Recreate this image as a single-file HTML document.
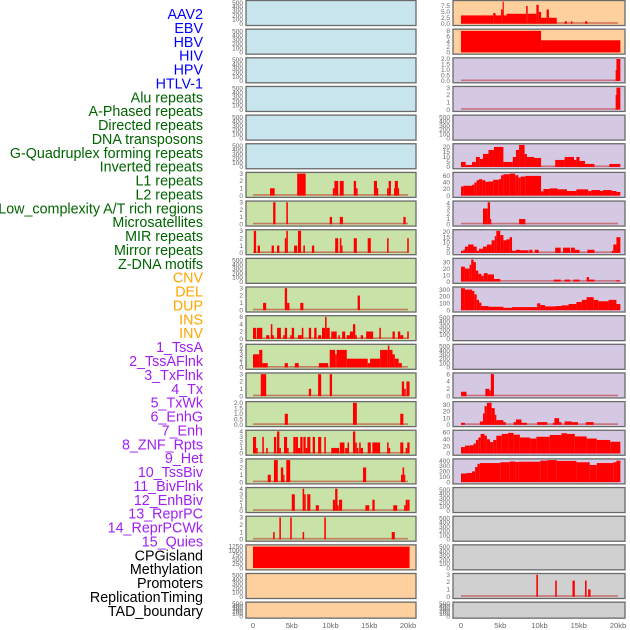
<!DOCTYPE html>
<html><head><meta charset="utf-8"><style>
html,body{margin:0;padding:0;background:#fff;}
svg{display:block;font-family:"Liberation Sans",sans-serif;}
</style></head><body>
<svg id="chart" width="630" height="630" viewBox="0 0 630 630" xmlns="http://www.w3.org/2000/svg">
<g id="labels" font-size="14.3" text-anchor="end"></g>
<g id="panels"></g>
</svg>
<script>
const labelNames = ["AAV2","EBV","HBV","HIV","HPV","HTLV-1","Alu repeats","A-Phased repeats","Directed repeats","DNA transposons","G-Quadruplex forming repeats","Inverted repeats","L1 repeats","L2 repeats","Low_complexity A/T rich regions","Microsatellites","MIR repeats","Mirror repeats","Z-DNA motifs","CNV","DEL","DUP","INS","INV","1_TssA","2_TssAFlnk","3_TxFlnk","4_Tx","5_TxWk","6_EnhG","7_Enh","8_ZNF_Rpts","9_Het","10_TssBiv","11_BivFlnk","12_EnhBiv","13_ReprPC","14_ReprPCWk","15_Quies","CPGisland","Methylation","Promoters","ReplicationTiming","TAD_boundary"];
const labelGroups = [6,13,5,15,5];
const groupColors = ["#0000ff","#006400","#ffa500","#a020f0","#000000"];

const xTickValues = [0,5,10,15,20];
const xTickLabels = ["0","5kb","10kb","15kb","20kb"];

const ticks3 = [0,1,2,3], ticks4=[0,1,2,3,4], ticks5=[0,1,2,3,4,5], ticks6=[0,2,4,6];
const ticks2 = [0,0.5,1,1.5,2], ticksEmpty=[0,100,200,300,400,500];

const segL6 = [[2.2,2.8,1],[5.7,6.8,3],[10.3,10.5,1],[10.5,11.0,2],[11.2,11.7,2],[13.0,13.3,2],[13.3,13.5,1],[15.6,16.0,2],[16.0,16.1,1],[17.3,17.5,1],[17.5,17.8,2],[18.2,18.3,1],[18.3,18.7,2],[18.7,18.8,1]];
const segL7 = [[2.6,2.9,3],[4.3,4.5,3],[9.9,10.2,1],[11.2,11.6,1],[19.4,19.7,1]];
const segL8 = [[0.1,0.4,3],[0.6,0.9,1],[2.4,2.7,1],[3.1,3.4,1],[4.1,4.3,2],[4.3,4.5,3],[5.3,5.7,1],[5.8,6.2,3],[6.5,6.7,1],[7.6,7.9,1],[10.6,11.0,2],[11.2,11.4,2],[11.4,11.5,1],[13.0,13.4,2],[14.8,15.2,2],[17.3,17.5,2],[19.9,20.1,2]];
const segL10 = [[1.3,1.7,1],[4.1,4.4,3],[4.4,4.7,1],[6.1,6.5,1],[13.5,13.8,2]];
const segL11 = [[0,0.4,3],[0.5,1.2,3],[1.7,2.1,1],[2.3,2.5,4],[2.5,2.7,1],[3.1,3.6,3],[3.9,4.1,1],[4.1,4.4,3],[4.8,5.0,1],[5.0,5.3,3],[5.8,6.3,1],[6.3,6.5,3],[7.2,7.5,3],[7.9,8.2,3],[8.4,8.8,1],[8.9,9.3,3],[9.3,9.5,6],[9.5,9.9,3],[10.1,10.8,2],[11.0,11.2,1],[11.5,11.9,2],[12.1,12.5,1],[12.5,12.9,2],[12.9,13.2,4],[13.2,13.4,1],[13.9,14.2,1],[14.6,15.5,2],[16.3,16.5,3],[18.0,18.3,2],[18.7,19.0,2],[19.0,19.4,1],[19.9,20.1,2]];
const segL12 = [[0,0.8,3],[0.8,1.2,4],[1.2,1.9,1],[4.1,4.5,1],[5.4,5.9,1],[8.5,9.7,1],[9.9,10.6,4],[10.6,10.8,3],[10.8,12.1,4],[12.1,14.8,2],[14.8,15.1,1],[15.1,16.4,2],[16.4,17.4,4],[17.4,17.6,5],[17.6,18.0,4],[18.0,18.3,3],[18.3,18.8,2],[18.8,19.2,1]];
const segL13 = [[1.0,1.7,3],[7.2,7.5,1],[8.4,8.8,3],[9.9,10.2,3],[19.2,19.5,2],[19.5,19.7,1],[19.8,20.2,2]];
const segL14 = [[4.1,4.5,1],[12.9,13.4,2],[19.0,19.4,1]];
const segL15 = [[0,0.4,3],[0.4,0.6,1],[1.2,1.4,3],[1.7,1.9,1],[2.7,3.0,3],[3.1,3.4,4],[3.4,3.6,1],[4.0,4.4,3],[4.4,4.6,1],[5.2,5.5,3],[5.5,5.8,3],[5.8,6.1,1],[6.1,6.4,3],[6.5,6.8,3],[6.8,7.0,1],[7.0,7.4,3],[7.7,8.0,3],[8.4,8.8,3],[9.2,9.4,3],[10.1,11.1,1],[11.2,11.8,2],[11.9,12.2,1],[12.2,12.4,2],[12.9,13.2,4],[13.2,13.4,2],[13.4,13.6,1],[13.7,13.9,2],[13.9,14.2,1],[14.8,15.2,2],[15.4,16.4,2],[17.3,17.5,2],[17.5,17.7,1],[19.0,19.4,2],[19.7,19.9,1],[19.9,20.2,2]];
const segL16 = [[1.9,2.3,1],[2.7,3.2,3],[3.6,3.9,2],[3.9,4.0,1],[4.3,4.8,3],[14.2,14.6,2],[19.1,19.3,1],[19.3,19.5,2],[19.5,19.6,1]];
const segL17 = [[5.0,5.4,3],[6.4,6.6,4],[6.6,6.8,3],[7.0,7.4,3],[8.1,8.5,1],[10.3,10.6,2],[10.6,10.9,4],[10.9,11.0,1],[11.1,11.5,2],[14.5,15.0,1],[15.4,15.7,2],[18.1,18.6,1],[19.5,19.7,1],[19.7,19.9,2],[19.9,20.2,2]];
const segL18 = [[2.6,2.8,1],[3.4,3.6,3],[4.8,5.0,3],[6.4,6.6,1],[9.2,9.4,3],[17.9,18.3,1]];
const segL19 = [[0,20.2,1220]];

const segR0 = [[0,4.1,3.5],[4.1,4.4,4.5],[4.4,5.1,3.5],[5.1,5.3,6],[5.3,5.4,9.3],[5.4,5.8,3.5],[5.8,8.3,4.2],[8.3,8.5,7.5],[8.5,9.6,4.2],[9.6,9.9,8],[9.9,10.2,5],[10.2,10.9,2.5],[10.9,11.2,6],[11.2,12.2,2.5],[13.2,13.5,1],[14.0,14.2,1],[15.8,16.1,1]];
const segR1 = [[0,10.2,8],[10.2,20.3,4.5]];
const segR2 = [[19.7,19.8,1],[19.8,20.3,2]];
const segR3 = [[19.7,19.8,2],[19.8,20.3,3]];
const segR5 = [[0,0.6,5],[0.6,1.4,2],[1.4,1.9,5],[1.9,2.4,10],[2.4,2.8,8],[2.8,3.5,13],[3.5,4.2,17],[4.2,5.4,20],[5.4,6.6,5],[6.6,7.0,10],[7.0,7.4,17],[7.4,8.1,22],[8.1,8.4,13],[8.4,9.3,10],[9.3,10.2,9],[12.0,13.2,7],[13.2,14.4,10],[14.4,14.7,7],[14.7,15.1,10],[15.1,15.8,6],[15.8,17.0,3],[18.9,20.3,3]];
const segR6 = [[0,0.3,28],[0.3,1.4,30],[1.4,1.7,33],[1.7,2.0,40],[2.0,2.3,47],[2.3,2.7,50],[2.7,3.1,47],[3.1,3.5,42],[3.5,4.1,43],[4.1,4.8,48],[4.8,5.1,50],[5.1,5.4,62],[5.4,6.2,65],[6.2,6.9,67],[6.9,7.3,62],[7.3,7.6,55],[7.6,8.2,58],[8.2,10.2,60],[10.2,10.5,13],[10.5,11.3,20],[11.3,12.3,22],[12.3,13.5,19],[13.5,14.7,14],[14.7,16.2,19],[16.2,16.6,14],[16.6,17.7,17],[17.7,18.1,14],[18.1,19.2,17],[19.2,19.8,14],[19.8,20.3,11]];
const segR7 = [[2.8,3.4,3],[3.4,3.7,4.2],[3.7,3.8,1],[7.4,8.2,1]];
const segR8 = [[0,0.3,2],[0.3,0.5,3],[0.5,0.9,6],[0.9,1.6,8],[1.6,2.0,6],[2.0,2.3,2],[2.3,2.8,4],[2.8,3.3,6],[3.3,3.9,8],[3.9,4.3,12],[4.3,4.5,16],[4.5,5.0,21],[5.0,5.4,17],[5.4,5.8,12],[5.8,6.2,13],[6.2,6.5,15],[6.5,7.0,2],[7.0,7.5,3],[7.5,8.6,2.5],[8.7,9.1,3],[9.4,9.9,3],[12.0,12.7,5],[13.0,13.9,5],[14.0,14.5,5],[14.5,15.1,3],[16.1,17.0,3],[19.2,19.4,2],[19.4,19.8,8],[19.8,20.3,15]];
const segR9 = [[0,0.5,23],[0.5,1.1,20],[1.1,1.3,26],[1.3,1.6,34],[1.6,1.9,30],[1.9,2.2,17],[2.2,2.6,12],[2.6,2.9,9],[2.9,3.4,13],[3.4,4.2,11],[4.2,5.0,4],[11.8,12.7,3],[13.2,13.9,3],[14.3,15.1,3],[16.0,16.3,7],[16.3,17.0,3],[19.8,20.3,2]];
const segR10 = [[0,0.5,320],[0.5,1.4,300],[1.4,1.7,280],[1.7,2.0,230],[2.0,2.3,150],[2.3,2.6,110],[2.6,3.5,60],[3.5,5.4,50],[5.4,6.5,35],[6.5,9.7,45],[9.7,10.1,100],[10.1,10.7,75],[10.7,12.0,55],[12.0,12.8,60],[12.8,13.7,70],[13.7,14.7,90],[14.7,15.4,120],[15.4,16.0,150],[16.0,16.9,190],[16.9,17.5,150],[17.5,18.8,130],[18.8,19.8,150],[19.8,20.3,90]];
const segR13 = [[0,0.7,1.2],[3.1,3.6,2],[3.6,3.8,1.5],[3.8,4.2,6]];
const segR14 = [[0,0.5,3],[2.4,2.8,5],[2.8,3.0,17],[3.0,3.3,28],[3.3,3.9,33],[3.9,4.3,25],[4.3,4.5,15],[4.5,5.4,7],[5.4,5.7,4],[6.7,7.0,4],[7.0,7.7,8],[7.7,8.4,3],[9.7,11.0,4],[11.7,11.9,3],[11.9,12.5,10],[12.5,12.8,4],[13.2,14.1,5],[14.1,14.9,4],[15.9,16.9,4]];
const segR15 = [[0,0.5,18],[0.5,1.1,22],[1.1,1.6,23],[1.6,1.9,28],[1.9,2.2,38],[2.2,2.5,45],[2.5,3.0,55],[3.0,3.3,50],[3.3,3.7,40],[3.7,4.1,32],[4.1,4.5,38],[4.5,5.2,50],[5.2,6.0,55],[6.0,6.7,58],[6.7,7.5,53],[7.5,8.8,45],[8.8,9.6,42],[9.6,11.3,47],[11.3,12.8,52],[12.8,13.5,57],[13.5,14.5,55],[14.5,16.0,48],[16.0,17.3,42],[17.3,19.0,38],[19.0,20.3,33]];
const segR16 = [[0,0.7,160],[0.7,1.4,170],[1.4,1.8,200],[1.8,2.1,280],[2.1,2.4,340],[2.4,5.0,355],[5.0,6.2,370],[6.2,6.9,385],[6.9,7.3,375],[7.3,10.1,380],[10.1,11.0,400],[11.0,12.2,410],[12.2,14.7,395],[14.7,16.4,370],[16.4,17.3,320],[17.3,19.4,355],[19.4,19.8,370],[19.8,20.3,400]];
const segR20 = [[9.6,9.8,3],[12.0,12.2,2.2],[14.2,14.5,2.2],[15.8,16.0,2.2],[16.2,16.5,1]];

const BLUE="#c8e4ec", GREEN="#c8e2a8", ORANGE="#fed09e", PURPLE="#d5c8e3", GRAY="#d0d0d0";
const leftPanels = [
 {bg:BLUE,ymax:520,ticks:ticksEmpty,seg:null},{bg:BLUE,ymax:520,ticks:ticksEmpty,seg:null},{bg:BLUE,ymax:520,ticks:ticksEmpty,seg:null},
 {bg:BLUE,ymax:520,ticks:ticksEmpty,seg:null},{bg:BLUE,ymax:520,ticks:ticksEmpty,seg:null},{bg:BLUE,ymax:520,ticks:ticksEmpty,seg:null},
 {bg:GREEN,ymax:3,ticks:ticks3,seg:segL6},{bg:GREEN,ymax:3,ticks:ticks3,seg:segL7},{bg:GREEN,ymax:3,ticks:ticks3,seg:segL8},
 {bg:GREEN,ymax:520,ticks:ticksEmpty,seg:null},{bg:GREEN,ymax:3,ticks:ticks3,seg:segL10},{bg:GREEN,ymax:6,ticks:ticks6,seg:segL11},
 {bg:GREEN,ymax:5,ticks:ticks5,seg:segL12},{bg:GREEN,ymax:3,ticks:ticks3,seg:segL13},{bg:GREEN,ymax:2,ticks:ticks2,seg:segL14,fmt:1},
 {bg:GREEN,ymax:4,ticks:ticks4,seg:segL15},{bg:GREEN,ymax:3,ticks:ticks3,seg:segL16},{bg:GREEN,ymax:4,ticks:ticks4,seg:segL17},
 {bg:GREEN,ymax:3,ticks:ticks3,seg:segL18},{bg:ORANGE,ymax:1250,ticks:[0,250,500,750,1000,1250],seg:segL19,nobase:true},
 {bg:ORANGE,ymax:520,ticks:ticksEmpty,seg:null},{bg:ORANGE,ymax:520,ticks:ticksEmpty,seg:null}
];
const rightPanels = [
 {bg:ORANGE,ymax:9.3,ticks:[0,2.5,5,7.5],seg:segR0,fmt:1},{bg:ORANGE,ymax:8.2,ticks:[0,2,4,6,8],seg:segR1},
 {bg:PURPLE,ymax:2,ticks:ticks2,seg:segR2,fmt:1},{bg:PURPLE,ymax:3,ticks:ticks3,seg:segR3},
 {bg:PURPLE,ymax:520,ticks:ticksEmpty,seg:null},{bg:PURPLE,ymax:22,ticks:[0,5,10,15,20],seg:segR5},
 {bg:PURPLE,ymax:67,ticks:[0,20,40,60],seg:segR6},{bg:PURPLE,ymax:4.2,ticks:ticks4,seg:segR7},
 {bg:PURPLE,ymax:21,ticks:[0,5,10,15,20],seg:segR8},{bg:PURPLE,ymax:34,ticks:[0,10,20,30],seg:segR9},
 {bg:PURPLE,ymax:320,ticks:[0,100,200,300],seg:segR10},{bg:PURPLE,ymax:520,ticks:ticksEmpty,seg:null},
 {bg:PURPLE,ymax:520,ticks:ticksEmpty,seg:null},{bg:PURPLE,ymax:6,ticks:ticks6,seg:segR13},
 {bg:PURPLE,ymax:33,ticks:[0,10,20,30],seg:segR14},{bg:PURPLE,ymax:62,ticks:[0,20,40,60],seg:segR15},
 {bg:PURPLE,ymax:410,ticks:[0,100,200,300,400],seg:segR16},{bg:GRAY,ymax:520,ticks:ticksEmpty,seg:null},
 {bg:GRAY,ymax:520,ticks:ticksEmpty,seg:null},{bg:GRAY,ymax:520,ticks:ticksEmpty,seg:null},
 {bg:GRAY,ymax:3,ticks:ticks3,seg:segR20},{bg:GRAY,ymax:520,ticks:ticksEmpty,seg:null}
];

const NS="http://www.w3.org/2000/svg";
function mk(tag, attrs, parent){const e=document.createElementNS(NS,tag);for(const k in attrs)e.setAttribute(k,attrs[k]);parent.appendChild(e);return e;}

const lg=document.getElementById('labels');
let gi=0, cnt=0;
labelNames.forEach((name,i)=>{
  if(cnt>=labelGroups[gi]){gi++;cnt=0;}
  cnt++;
  const t=mk('text',{x:203,y:19+i*13.88,fill:groupColors[gi]},lg);
  
  
  t.textContent=name;
});

const pg=document.getElementById('panels');
const cols=[{x0:246,x1:416,k0:253,k20:408,panels:leftPanels,name:'left'},{x0:453,x1:625,k0:461,k20:618,panels:rightPanels,name:'right'}];
const PITCH=28.65;
cols.forEach(col=>{
  const xs=kb=>col.k0+(col.k20-col.k0)*kb/20;
  col.panels.forEach((p,r)=>{
    const top=r*PITCH+0.5, h=(r===21?16:25);
    const g=mk('g',{},pg);
    
    
    const base=top+h-1.8, ytop=top+1.2;
    const ys=v=>base-(base-ytop)*v/p.ymax;
    const bgR=mk('rect',{x:col.x0,y:top,width:col.x1-col.x0,height:h,fill:p.bg,stroke:'#6a6a6a','stroke-width':1.3},g);
    
    
    if(p.seg){
      if(!p.nobase){
        const bl=mk('rect',{x:xs(0),y:base-1.5,width:xs(20)-xs(0),height:1.6,fill:'rgba(190,40,40,0.55)'},g);
        
        
      }
      p.seg.forEach(s=>{
        const b=mk('rect',{x:xs(s[0]),y:ys(s[2]),width:Math.max(1.2,xs(s[1])-xs(s[0])),height:base-ys(s[2]),fill:'#ff0000'},g);
        
        
      });
    }
    p.ticks.forEach(v=>{
      const t=mk('text',{x:col.x0-3,y:ys(v)+2.2,'font-size':6.5,fill:'#666','text-anchor':'end'},g);
      
      
      t.textContent=p.fmt?v.toFixed(1):String(v);
    });
  });
  xTickValues.forEach((v,i)=>{
    const t=mk('text',{x:xs(v),y:628,'font-size':7.5,fill:'#666','text-anchor':'middle'},pg);
    
    
    t.textContent=xTickLabels[i];
  });
});
</script>
</body></html>
